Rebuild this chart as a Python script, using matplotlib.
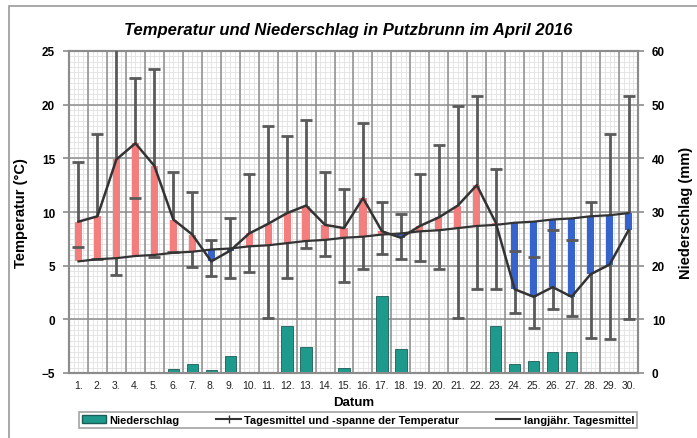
"""Temperatur und Niederschlag in Putzbrunn, April 2016."""

import matplotlib

matplotlib.use("Agg")
import matplotlib.pyplot as plt
import numpy as np
from matplotlib.patches import Patch, Rectangle
from matplotlib.lines import Line2D

plt.rcParams["font.family"] = ["Liberation Sans", "DejaVu Sans"]

days = list(range(1, 31))
day_labels = [f"{d}." for d in days]

t_mean = [9.1, 9.6, 14.9, 16.4, 14.3, 9.3, 7.9, 5.4, 6.4, 8.0,
          8.9, 9.9, 10.6, 8.8, 8.5, 11.3, 8.2, 7.6, 8.7, 9.5,
          10.6, 12.5, 9.0, 2.8, 2.1, 3.0, 2.1, 4.2, 5.1, 8.3]
t_max = [14.7, 17.3, 27.0, 22.5, 23.3, 13.7, 11.9, 7.4, 9.4, 13.5,
         18.0, 17.1, 18.6, 13.7, 12.1, 18.3, 10.9, 9.8, 13.5, 16.2,
         19.9, 20.8, 14.0, 6.4, 5.8, 8.3, 7.4, 10.9, 17.3, 20.8]
t_min = [6.7, 5.6, 4.1, 11.3, 5.8, 6.3, 4.9, 4.0, 3.85, 4.4,
         0.1, 3.85, 6.65, 5.9, 3.5, 4.7, 6.1, 5.65, 5.4, 4.7,
         0.1, 2.8, 2.85, 0.6, -0.8, 1.0, 0.3, -1.75, -1.85, 0.0]
t_longterm = [5.4, 5.6, 5.7, 5.9, 6.0, 6.2, 6.3, 6.5, 6.6, 6.8,
              6.9, 7.1, 7.3, 7.4, 7.6, 7.7, 7.9, 8.0, 8.2, 8.3,
              8.5, 8.7, 8.8, 9.0, 9.1, 9.3, 9.4, 9.6, 9.7, 9.9]
precip = [0, 0, 0, 0, 0, 0.8, 1.6, 0.6, 3.2, 0.2,
          0, 8.8, 4.9, 0.1, 0.9, 0, 14.3, 4.5, 0, 0,
          0, 0, 8.8, 1.7, 2.3, 3.85, 3.85, 0, 0, 0]

RED = "#F47E7E"
BLUE = "#3763CC"
TEAL = "#1E9A8C"
DARK = "#333333"
WHISKER = "#5A5A5A"

fig = plt.figure(figsize=(6.97, 4.39), dpi=100)
fig.patches.append(Rectangle((9 / 697, -0.05), 1.2, 1 - 7 / 439 + 0.05,
                             transform=fig.transFigure, fill=False,
                             edgecolor="#9A9A9A", linewidth=1.2))

ax = fig.add_axes([69 / 697, 1 - 374 / 439, 569 / 697, 322 / 439])
ax2 = ax.twinx()
ax.set_zorder(ax2.get_zorder() + 1)
ax.patch.set_visible(False)

x = np.array(days)
mean = np.array(t_mean)
lt = np.array(t_longterm)

# grid
ax.set_xlim(0.5, 30.5)
ax.set_ylim(-5, 25)
ax2.set_ylim(0, 60)
for v in np.arange(0.5, 30.5, 0.25):
    ax2.axvline(v, color="#E2E2E2", linewidth=0.6, zorder=0)
for v in np.arange(-5, 25, 0.5):
    ax2.axhline(v * 2 + 10, color="#E2E2E2", linewidth=0.6, zorder=0)
for v in np.arange(1.5, 30.5, 1):
    ax2.axvline(v, color="#8C8C8C", linewidth=1.1, zorder=0.5)
for v in range(0, 61, 10):
    ax2.axhline(v, color="#8C8C8C", linewidth=1.1, zorder=0.5)

# precipitation
ax2.bar(x, precip, width=0.6, color=TEAL, edgecolor="#1B5E57", linewidth=0.6, zorder=2)

# temperature range whiskers
ax.vlines(x, t_min, t_max, color=WHISKER, linewidth=2, zorder=3)

# deviation bars
colors = [RED if m >= l else BLUE for m, l in zip(mean, lt)]
ax.bar(x, mean - lt, bottom=lt, width=0.38, color=colors, linewidth=0, zorder=4)

# whisker caps
ax.plot(x, t_max, linestyle="none", marker="_", markersize=9, markeredgewidth=2,
        color=WHISKER, zorder=5)
ax.plot(x, t_min, linestyle="none", marker="_", markersize=9, markeredgewidth=2,
        color=WHISKER, zorder=5)

ax.plot(x, lt, color=DARK, linewidth=1.6, zorder=6)
ax.plot(x, mean, color=DARK, linewidth=1.8, zorder=6)

# axes styling
for a in (ax, ax2):
    for side in a.spines.values():
        side.set_color("#8C8C8C")
        side.set_linewidth(1.5)
ax.set_yticks(range(-5, 26, 5))
ax2.set_yticks(range(0, 61, 10))
ax.set_xticks(x)
ax.set_xticklabels(day_labels)
ax.tick_params(axis="x", length=0, labelsize=7.5, colors="#222222", pad=5)
ax.tick_params(axis="y", length=4, width=1.2, color="#8C8C8C", labelsize=8.5, pad=6)
ax2.tick_params(axis="y", length=4, width=1.2, color="#8C8C8C", labelsize=8.5, pad=6)
for lab in ax.get_yticklabels() + ax2.get_yticklabels():
    lab.set_fontweight("bold")

ax.set_ylabel("Temperatur (°C)", fontsize=10.5, fontweight="bold", labelpad=10)
ax2.set_ylabel("Niederschlag (mm)", fontsize=10.5, fontweight="bold", labelpad=10)
ax.set_xlabel("Datum", fontsize=9.5, fontweight="bold", labelpad=4)
fig.text(0.5, 1 - 30 / 439, "Temperatur und Niederschlag in Putzbrunn im April 2016",
         ha="center", va="center", fontsize=12, fontweight="bold", style="italic")

handles = [
    Patch(facecolor=TEAL, edgecolor="#1B5E57"),
    Line2D([], [], color=DARK, linewidth=1.5, marker="|", markersize=6),
    Line2D([], [], color=DARK, linewidth=1.5),
]
labels = ["Niederschlag", "Tagesmittel und -spanne der Temperatur", "langjähr. Tagesmittel"]
leg = fig.legend(handles, labels, loc="center",
                 bbox_to_anchor=(358 / 697, 1 - 421 / 439),
                 ncol=3, frameon=True, fancybox=False, edgecolor="#8C8C8C",
                 handlelength=2.2, handletextpad=0.3, columnspacing=3.3,
                 borderpad=0.25, prop={"weight": "bold", "size": 8})
leg.get_frame().set_linewidth(1.2)

fig.savefig("out.png", dpi=100)
